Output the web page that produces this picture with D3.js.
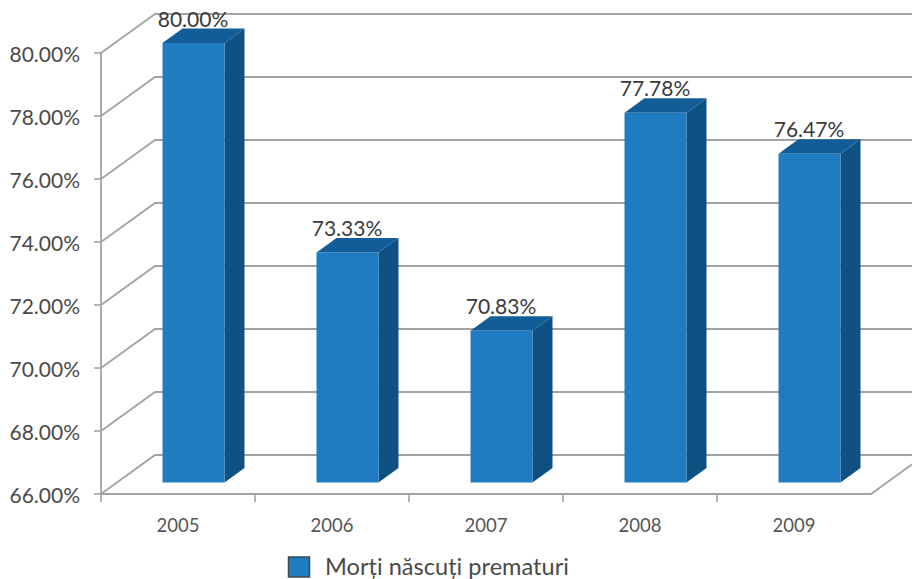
<!DOCTYPE html>
<html>
<head>
<meta charset="utf-8">
<script src="https://cdn.jsdelivr.net/npm/d3@7/dist/d3.min.js"></script>
<style>
html,body{margin:0;padding:0;background:#fff;overflow:hidden}
svg{display:block}
text{font-family:Lato,"Open Sans",sans-serif}
</style>
</head>
<body>
<svg id="chart" width="912" height="579"></svg>
<script>
const years = ["2005","2006","2007","2008","2009"];
const shares = [80.00,73.33,70.83,77.78,76.47];
const yTicks = [66,68,70,72,74,76,78,80];
const seriesName = "Morți născuți prematuri";

const svg = d3.select("#chart");
const plot = {left:101,right:871,top:53,bottom:494};
const wall = {dx:54,dy:-39};      // floor depth of the 3D box
const bar = {dx:20,dy:-14.5,shift:15.5,width:62};
const gridColor = "#a3a3a3";

const x = d3.scaleBand().domain(years).range([plot.left,plot.right]);
const y = d3.scaleLinear().domain([66,80]).range([plot.bottom,plot.top]);
// Bars stand partway back on the floor, so they use their own vertical scale
const barY = d3.scaleLinear().domain([66,80]).range([482.5,43]);

const grid = svg.append("g").attr("fill","none").attr("stroke",gridColor).attr("stroke-width",1.8);
// Gridlines run across the back wall and fold down the left side wall
grid.selectAll("path.tick").data(yTicks).join("path").attr("class","tick")
  .attr("d",d=>`M${plot.left},${y(d)}L${plot.left+wall.dx},${y(d)+wall.dy}L912,${y(d)+wall.dy}`);
// Front edge of the floor with its return to the back wall
grid.append("path").attr("d",
  `M${plot.left},${plot.bottom}L${plot.right},${plot.bottom}L${plot.right+wall.dx},${plot.bottom+wall.dy}`);
grid.append("path").attr("d",`M${plot.left},${plot.top}V${plot.bottom}`);

// Axis ticks
const ticks = svg.append("g").attr("stroke",gridColor).attr("stroke-width",1.6);
ticks.selectAll("line.y").data(yTicks).join("line").attr("class","y")
  .attr("x1",plot.left-7).attr("x2",plot.left).attr("y1",d=>y(d)).attr("y2",d=>y(d));
ticks.selectAll("line.x").data(years).join("line").attr("class","x")
  .attr("x1",d=>x(d)).attr("x2",d=>x(d))
  .attr("y1",plot.bottom).attr("y2",plot.bottom+8);

// Axis labels
svg.append("g").selectAll("text").data(yTicks).join("text")
  .attr("x",80).attr("y",d=>y(d)+9).attr("text-anchor","end")
  .attr("font-size",21).attr("fill","#4a4a4a")
  .text(d=>d.toFixed(2)+"%");
svg.append("g").selectAll("text").data(years).join("text")
  .attr("x",d=>x(d)+x.bandwidth()/2).attr("y",532).attr("text-anchor","middle")
  .attr("font-size",18.5).attr("fill","#555")
  .text(d=>d);

// 3D bars: front, side and top faces
const bars = svg.append("g").selectAll("g").data(years.map((d,i)=>({year:d,value:shares[i]}))).join("g");
const frontX = d=>x(d.year)+x.bandwidth()/2+bar.shift-bar.width/2;
const frontTop = d=>barY(d.value);
const base = barY(66);
bars.append("path").attr("fill","#0f5182")
  .attr("d",d=>`M${frontX(d)+bar.width},${frontTop(d)}l${bar.dx},${bar.dy}V${base+bar.dy}l${-bar.dx},${-bar.dy}Z`);
bars.append("path").attr("fill","#125d97")
  .attr("d",d=>`M${frontX(d)},${frontTop(d)}l${bar.dx},${bar.dy}h${bar.width}l${-bar.dx},${-bar.dy}Z`);
bars.append("rect").attr("fill","#1f7cc0")
  .attr("x",frontX).attr("y",frontTop).attr("width",bar.width).attr("height",d=>base-frontTop(d));

// Value labels above each bar
bars.append("text")
  .attr("x",d=>frontX(d)+bar.width/2-0.5).attr("y",d=>frontTop(d)+bar.dy-2)
  .attr("text-anchor","middle").attr("font-size",21).attr("fill","#3a3a3a")
  .text(d=>d.value.toFixed(2)+"%");

// Legend
svg.append("rect").attr("x",288.5).attr("y",557).attr("width",21).attr("height",20)
  .attr("fill","#1f7cc0").attr("stroke","#3d4a57").attr("stroke-width",1.5);
svg.append("text").attr("x",325).attr("y",575).attr("font-size",23.6).attr("fill","#4a4a4a").text(seriesName);
</script>
</body>
</html>
